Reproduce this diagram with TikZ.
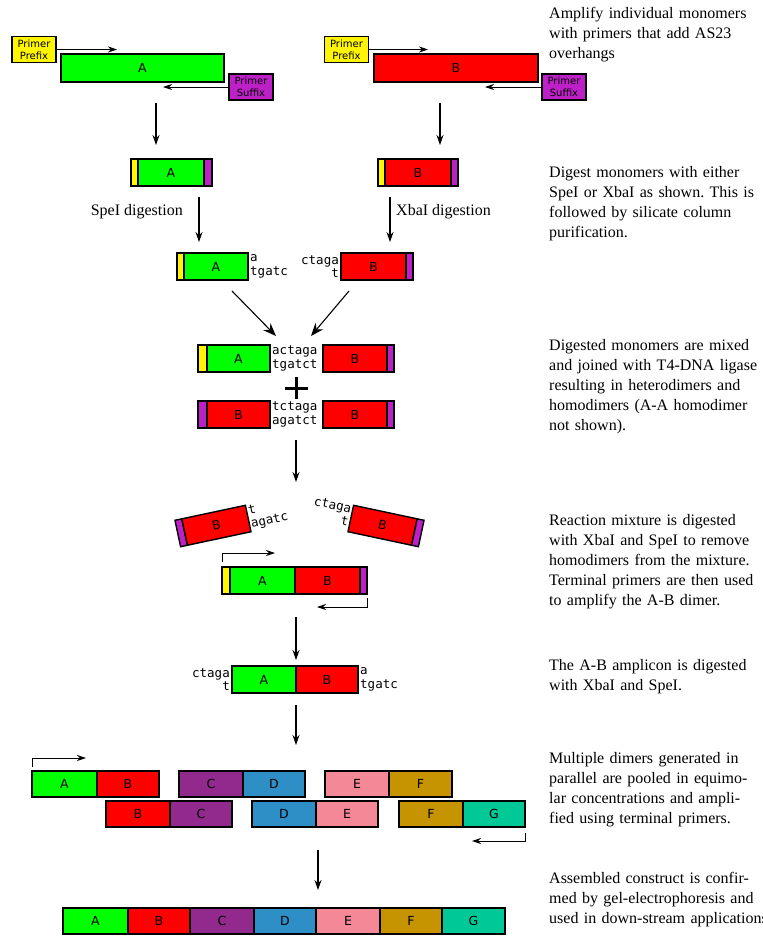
\documentclass[tikz,border=0pt]{standalone}
\usepackage{fontspec}
\setmainfont{Liberation Serif}
\setsansfont{DejaVu Sans}
\setmonofont{DejaVu Sans Mono}
\usetikzlibrary{arrows.meta}
\frenchspacing

\definecolor{yel}{RGB}{255,245,0}
\definecolor{mag}{RGB}{190,32,200}
\definecolor{grn}{RGB}{0,255,0}
\definecolor{rd}{RGB}{255,0,0}
\definecolor{colC}{RGB}{146,42,142}
\definecolor{colD}{RGB}{46,142,198}
\definecolor{colE}{RGB}{244,136,150}
\definecolor{colF}{RGB}{198,148,0}
\definecolor{colG}{RGB}{0,200,150}

\tikzset{
  seg/.style={draw=black, line width=1.4pt, inner sep=0pt,
    font=\sffamily\fontsize{12.5}{14}\selectfont},
  primerbox/.style={draw=black, line width=1.4pt, inner sep=0pt, align=center,
    minimum width=44pt, minimum height=26pt,
    font=\sffamily\fontsize{10}{12}\selectfont},
  flow/.style={-{Stealth[length=10pt,width=7pt]}, line width=1.1pt},
  bigflow/.style={-{Stealth[length=13pt,width=10pt]}, line width=1.1pt},
  prim/.style={-{Stealth[length=9pt,width=6pt]}, line width=0.9pt},
  mono/.style={font=\ttfamily\fontsize{12.5}{13.5}\selectfont, inner sep=0pt},
  note/.style={font=\fontsize{16}{20}\selectfont, align=left, anchor=base west,
    inner sep=0pt, text width=230pt},
  lbl/.style={font=\fontsize{16}{20}\selectfont, inner sep=0pt},
}

% name, x1, y1, x2, y2, colour, label
\newcommand{\dnaseg}[7]{%
  \node[seg, fill=#6, minimum width={(#4-#2)*1pt}, minimum height={(#5-#3)*1pt}]
    (#1) at ({(#2+#4)/2},{(#3+#5)/2}) {#7};}

\begin{document}
\begin{tikzpicture}[x=1pt,y=-1pt]
\useasboundingbox (0,0) rectangle (763,951);
\fill[white] (0,0) rectangle (763,951);

% ---------- step 1: monomer amplification ----------
\node[primerbox, fill=yel] (ppA) at (34,49.5) {Primer\\Prefix};
\dnaseg{monoA}{61}{54}{224}{82}{grn}{A}
\node[primerbox, fill=mag] (psA) at (251,87) {Primer\\Suffix};
\coordinate (ppAend) at (117,49.5);
\coordinate (psAend) at (163,87);
\draw[prim] (ppA.east) -- (ppAend);
\draw[prim] (psA.west) -- (psAend);

\node[primerbox, fill=yel] (ppB) at (346.5,49.5) {Primer\\Prefix};
\dnaseg{monoB}{374}{54}{538}{82}{rd}{B}
\node[primerbox, fill=mag] (psB) at (564,87) {Primer\\Suffix};
\coordinate (ppBend) at (428,49.5);
\coordinate (psBend) at (485,87);
\draw[prim] (ppB.east) -- (ppBend);
\draw[prim] (psB.west) -- (psBend);

\coordinate (a1s) at (156,103); \coordinate (a1e) at (156,145);
\coordinate (b1s) at (440,103); \coordinate (b1e) at (440,145);
\draw[flow] (a1s) -- (a1e);
\draw[flow] (b1s) -- (b1e);

% ---------- step 2: trimmed monomers ----------
\dnaseg{tAy}{131}{159}{138}{186}{yel}{}
\dnaseg{tA}{138}{159}{204}{186}{grn}{A}
\dnaseg{tAm}{204}{159}{212}{186}{mag}{}
\dnaseg{tBy}{378}{159}{385}{186}{yel}{}
\dnaseg{tB}{385}{159}{451}{186}{rd}{B}
\dnaseg{tBm}{451}{159}{458}{186}{mag}{}

\coordinate (a2s) at (199,197); \coordinate (a2e) at (199,242);
\coordinate (b2s) at (390,197); \coordinate (b2e) at (390,242);
\draw[flow] (a2s) -- (a2e);
\draw[flow] (b2s) -- (b2e);
\node[lbl, anchor=east] (speI) at (183,212) {SpeI digestion};
\node[lbl, anchor=west] (xbaI) at (396,212) {XbaI digestion};

% ---------- step 3: digested monomers ----------
\dnaseg{dAy}{177}{253}{184}{280}{yel}{}
\dnaseg{dA}{184}{253}{248}{280}{grn}{A}
\node[mono, align=left, anchor=west] (dAend) at (250,266.5) {a\\tgatc};
\dnaseg{dB}{341}{253}{406}{280}{rd}{B}
\dnaseg{dBm}{406}{253}{413}{280}{mag}{}
\node[mono, align=right, anchor=east] (dBend) at (339,266.5) {ctaga\\t};

\coordinate (c1s) at (232,291); \coordinate (c1e) at (276,336);
\coordinate (c2s) at (349,291); \coordinate (c2e) at (311,336);
\draw[bigflow] (c1s) -- (c1e);
\draw[bigflow] (c2s) -- (c2e);

% ---------- step 4: ligation products ----------
\dnaseg{hAy}{198}{345}{207}{372}{yel}{}
\dnaseg{hA}{207}{345}{270}{372}{grn}{A}
\node[mono, align=left, anchor=west] (hJoin) at (272,358.5) {actaga\\tgatct};
\dnaseg{hB}{323}{345}{387}{372}{rd}{B}
\dnaseg{hBm}{387}{345}{394}{372}{mag}{}

\draw[line width=3pt] (285,388) -- (308,388) (296.5,377) -- (296.5,399);

\dnaseg{oBm}{198}{401}{207}{428}{mag}{}
\dnaseg{oB}{207}{401}{270}{428}{rd}{B}
\node[mono, align=left, anchor=west] (oJoin) at (272,414.5) {tctaga\\agatct};
\dnaseg{oB2}{323}{401}{387}{428}{rd}{B}
\dnaseg{oB2m}{387}{401}{394}{428}{mag}{}

\coordinate (d1s) at (296,440); \coordinate (d1e) at (296,482);
\draw[flow] (d1s) -- (d1e);

% ---------- step 5: homodimer cleavage and A-B amplification ----------
\begin{scope}[shift={(213,526)}, rotate=12, transform shape]
  \dnaseg{lBm}{-36}{-13.5}{-29}{13.5}{mag}{}
  \dnaseg{lB}{-29}{-13.5}{36}{13.5}{rd}{B}
  \node[mono, align=left, anchor=west] (lBend) at (37.5,0) {t\\agatc};
\end{scope}
\begin{scope}[shift={(386,526)}, rotate=-12, transform shape]
  \dnaseg{rB}{-36}{-13.5}{29}{13.5}{rd}{B}
  \dnaseg{rBm}{29}{-13.5}{36}{13.5}{mag}{}
  \node[mono, align=right, anchor=east] (rBend) at (-37.5,-3) {ctaga\\t};
\end{scope}

\dnaseg{abY}{222}{567}{230}{594}{yel}{}
\dnaseg{abA}{230}{567}{295}{594}{grn}{A}
\dnaseg{abB}{295}{567}{360}{594}{rd}{B}
\dnaseg{abM}{360}{567}{367}{594}{mag}{}
\coordinate (abF0) at (222,562); \coordinate (abF1) at (275,553);
\coordinate (abR0) at (367,598); \coordinate (abR1) at (317,607);
\draw[prim] (abF0) |- (abF1);
\draw[prim] (abR0) |- (abR1);

\coordinate (e1s) at (296,617); \coordinate (e1e) at (296,660);
\draw[flow] (e1s) -- (e1e);

% ---------- step 6: digested A-B amplicon ----------
\dnaseg{amA}{232}{666}{296}{693}{grn}{A}
\dnaseg{amB}{296}{666}{358}{693}{rd}{B}
\node[mono, align=right, anchor=east] (amL) at (230,679.5) {ctaga\\t};
\node[mono, align=left, anchor=west] (amR) at (360,679.5) {a\\tgatc};

\coordinate (f1s) at (296,705); \coordinate (f1e) at (296,745);
\draw[flow] (f1s) -- (f1e);

% ---------- step 7: pooled dimers ----------
\dnaseg{p1A}{32}{771}{97}{797}{grn}{A}
\dnaseg{p1B}{97}{771}{159}{797}{rd}{B}
\dnaseg{p1C}{179}{771}{243}{797}{colC}{C}
\dnaseg{p1D}{243}{771}{305}{797}{colD}{D}
\dnaseg{p1E}{325}{771}{389}{797}{colE}{E}
\dnaseg{p1F}{389}{771}{452}{797}{colF}{F}
\dnaseg{p2B}{106}{801}{170}{827}{rd}{B}
\dnaseg{p2C}{170}{801}{232}{827}{colC}{C}
\dnaseg{p2D}{252}{801}{316}{827}{colD}{D}
\dnaseg{p2E}{316}{801}{378}{827}{colE}{E}
\dnaseg{p2F}{399}{801}{463}{827}{colF}{F}
\dnaseg{p2G}{463}{801}{525}{827}{colG}{G}
\coordinate (pF0) at (32,767); \coordinate (pF1) at (86,758);
\coordinate (pR0) at (525,833); \coordinate (pR1) at (472,841);
\draw[prim] (pF0) |- (pF1);
\draw[prim] (pR0) |- (pR1);

\coordinate (g1s) at (318,850); \coordinate (g1e) at (318,890);
\draw[flow] (g1s) -- (g1e);

% ---------- step 8: assembled construct ----------
\dnaseg{fA}{63}{908}{128}{934}{grn}{A}
\dnaseg{fB}{128}{908}{190}{934}{rd}{B}
\dnaseg{fC}{190}{908}{254}{934}{colC}{C}
\dnaseg{fD}{254}{908}{316}{934}{colD}{D}
\dnaseg{fE}{316}{908}{380}{934}{colE}{E}
\dnaseg{fF}{380}{908}{442}{934}{colF}{F}
\dnaseg{fG}{442}{908}{505}{934}{colG}{G}

% ---------- protocol notes ----------
\node[note] (n1) at (549,18) {Amplify individual monomers\\with primers that add AS23\\overhangs};
\node[note] (n2) at (549,177) {Digest monomers with either\\SpeI or XbaI as shown. This is\\followed by silicate column\\purification.};
\node[note] (n3) at (549,350) {Digested monomers are mixed\\and joined with T4-DNA ligase\\resulting in heterodimers and\\homodimers (A-A homodimer\\not shown).};
\node[note] (n4) at (549,525) {Reaction mixture is digested\\with XbaI and SpeI to remove\\homodimers from the mixture.\\Terminal primers are then used\\to amplify the A-B dimer.};
\node[note] (n5) at (549,670) {The A-B amplicon is digested\\with XbaI and SpeI.};
\node[note] (n6) at (549,763) {Multiple dimers generated in\\parallel are pooled in equimo-\\lar concentrations and ampli-\\fied using terminal primers.};
\node[note] (n7) at (549,883) {Assembled construct is confir-\\med by gel-electrophoresis and\\used in down-stream applications.};
\end{tikzpicture}
\end{document}
